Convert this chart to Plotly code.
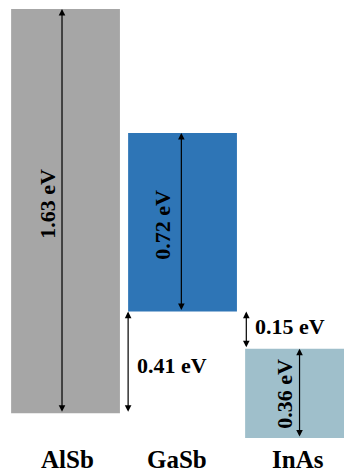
import plotly.graph_objects as go

# Band alignment of the 6.1 Å family (energies in eV)
materials = ["AlSb", "GaSb", "InAs"]
valence_band = [0.00, 0.41, -0.10]
band_gap = [1.63, 0.72, 0.36]
bar_colors = ["#a6a6a6", "#2e75b6", "#9fbfcb"]
gap_labels = ["1.63 eV", "0.72 eV", "0.36 eV"]
offset_vb = 0.41   # GaSb VB above AlSb VB
offset_cb = 0.15   # GaSb VB above InAs CB

xpos = [0, 1, 2]
bar_w = 0.93
font_family = "Liberation Serif, Times New Roman, serif"
y_lo, y_hi = -0.245, 1.6663

fig = go.Figure()
fig.add_trace(go.Bar(
    x=xpos, y=band_gap, base=valence_band, width=bar_w,
    marker=dict(color=bar_colors, line=dict(width=0)),
    hoverinfo="skip", showlegend=False,
))

conduction_band = [v + g for v, g in zip(valence_band, band_gap)]


def double_arrow(x, y0, y1):
    fig.add_annotation(
        x=x, y=y1, ax=x, ay=y0, xref="x", yref="y", axref="x", ayref="y",
        text="", showarrow=True, arrowside="end+start",
        arrowhead=2, arrowsize=1.1, arrowwidth=1.2, arrowcolor="black",
    )


# Band-gap arrows inside each bar
arrow_dx = [-0.03, -0.01, 0.0]
for i in range(3):
    double_arrow(xpos[i] + arrow_dx[i], valence_band[i], conduction_band[i])

# Band-offset arrows
double_arrow(xpos[1] - bar_w / 2, valence_band[0], valence_band[0] + offset_vb)
double_arrow(xpos[2] - bar_w / 2 + 0.01, valence_band[1] - offset_cb, valence_band[1])

label_font = dict(family=font_family, size=22, color="black")

# Rotated band-gap labels
label_dx = [-0.15, -0.167, -0.13]
label_dy = [0.03, -0.01, 0.0]
for i in range(3):
    fig.add_annotation(
        x=xpos[i] + label_dx[i], y=valence_band[i] + band_gap[i] / 2 + label_dy[i],
        text=f"<b>{gap_labels[i]}</b>", textangle=-90, showarrow=False,
        font=label_font, xanchor="center", yanchor="middle",
    )

# Offset labels
fig.add_annotation(
    x=0.59, y=valence_band[0] + 0.194, text=f"<b>{offset_vb:.2f} eV</b>",
    showarrow=False, font=label_font, xanchor="left", yanchor="middle",
)
fig.add_annotation(
    x=1.6, y=valence_band[1] - offset_cb / 2 + 0.013, text=f"<b>{offset_cb:.2f} eV</b>",
    showarrow=False, font=label_font, xanchor="left", yanchor="middle",
)

# Material names along the bottom edge
name_x = [0.021, 0.953, 1.987]
for i, name in enumerate(materials):
    fig.add_annotation(
        x=name_x[i], y=y_lo, text=f"<b>{name}</b>", showarrow=False,
        font=dict(family=font_family, size=25, color="black"),
        xanchor="center", yanchor="bottom", borderpad=0,
    )

fig.update_layout(
    width=344, height=474,
    margin=dict(l=0, r=0, t=0, b=0),
    paper_bgcolor="white", plot_bgcolor="white",
    xaxis=dict(range=[-0.56, 2.38], visible=False, fixedrange=True),
    yaxis=dict(range=[y_lo, y_hi], visible=False, fixedrange=True),
)

fig.write_html("out.html")
